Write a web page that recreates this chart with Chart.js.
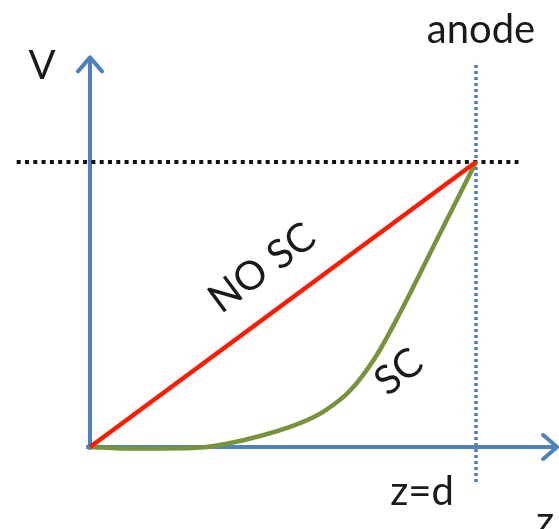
<!DOCTYPE html>
<html>
<head>
<meta charset="utf-8">
<script src="https://cdn.jsdelivr.net/npm/chart.js@4"></script>
<style>
  html, body { margin: 0; padding: 0; background: #fff; }
  #wrap { width: 559px; height: 529px; position: relative; }
</style>
</head>
<body>
<div id="wrap"><canvas id="chartCanvas"></canvas></div>
<script>
// z in units of d, V in units of V0 (anode potential)
const zNoSC = [0, 1];
const vNoSC = [0, 1];

// space-charge limited profile
const zSC = [0, 0.091, 0.181, 0.285, 0.415, 0.544, 0.609, 0.674, 0.738, 0.803, 0.902, 1.0];
const vSC = [0, -0.005, -0.005, -0.002, 0.030, 0.084, 0.128, 0.198, 0.312, 0.470, 0.737, 1.0];

// axes and guide lines (data units)
const zAxisX = [-0.01, 1.205];
const vAxisY = [-0.01, 1.36];
const v0LineX = [-0.19, 1.11];
const anodeLineY = [-0.123, 1.351];

// labels: text, z, V, rotation (deg)
const labelText = ['V', 'anode', 'z=d', 'z', 'NO SC', 'SC'];
const labelZ = [-0.124, 1.013, 0.860, 1.179, 0.446, 0.80];
const labelV = [1.337, 1.463, -0.158, -0.262, 0.628, 0.263];
const labelRot = [0, 0, 0, 0, -36.4, -38];

const BLUE = '#4F81BD';
const toPts = (xs, ys) => xs.map((x, i) => ({ x, y: ys[i] }));

// arrow heads on the axes + text labels
const decorPlugin = {
  id: 'decor',
  afterDatasetsDraw(chart) {
    const { ctx, scales } = chart;
    const xs = scales.x, ys = scales.y;
    ctx.save();
    ctx.strokeStyle = BLUE;
    ctx.lineWidth = 4;
    ctx.lineCap = 'round';
    ctx.lineJoin = 'round';
    // V axis arrow
    let tx = xs.getPixelForValue(0), ty = ys.getPixelForValue(vAxisY[1]) - 2;
    ctx.beginPath();
    ctx.moveTo(tx - 12, ty + 14);
    ctx.lineTo(tx, ty);
    ctx.lineTo(tx + 12, ty + 14);
    ctx.stroke();
    // z axis arrow
    tx = xs.getPixelForValue(zAxisX[1]) + 2; ty = ys.getPixelForValue(0);
    ctx.beginPath();
    ctx.moveTo(tx - 14, ty - 12);
    ctx.lineTo(tx, ty);
    ctx.lineTo(tx - 14, ty + 12);
    ctx.stroke();

    ctx.fillStyle = '#1a1a1a';
    ctx.font = '40px Lato, "Open Sans", sans-serif';
    ctx.textAlign = 'center';
    ctx.textBaseline = 'middle';
    labelText.forEach((t, i) => {
      ctx.save();
      ctx.translate(xs.getPixelForValue(labelZ[i]), ys.getPixelForValue(labelV[i]));
      ctx.rotate(labelRot[i] * Math.PI / 180);
      ctx.fillText(t, 0, 0);
      ctx.restore();
    });
    ctx.restore();
  }
};

new Chart(document.getElementById('chartCanvas'), {
  type: 'scatter',
  data: {
    datasets: [
      { label: 'NO SC', data: toPts(zNoSC, vNoSC), showLine: true, borderColor: '#FF1A00', borderWidth: 4.5 },
      { label: 'SC', data: toPts(zSC, vSC), showLine: true, borderColor: '#77933C', borderWidth: 4.5, cubicInterpolationMode: 'monotone' },
      { label: 'anode', data: toPts([1, 1], anodeLineY), showLine: true, borderColor: '#4A7EC0', borderWidth: 3.5, borderDash: [3, 3] },
      { label: 'V0', data: toPts(v0LineX, [1, 1]), showLine: true, borderColor: '#111', borderWidth: 4, borderDash: [4, 4.3] },
      { label: 'z axis', data: toPts(zAxisX, [0, 0]), showLine: true, borderColor: BLUE, borderWidth: 4 },
      { label: 'V axis', data: toPts([0, 0], vAxisY), showLine: true, borderColor: BLUE, borderWidth: 4 }
    ]
  },
  options: {
    responsive: true,
    maintainAspectRatio: false,
    animation: false,
    events: [],
    elements: { point: { radius: 0 } },
    layout: { padding: 0 },
    plugins: { legend: { display: false }, tooltip: { enabled: false } },
    scales: {
      x: { type: 'linear', min: -0.2332, max: 1.215, display: false },
      y: { type: 'linear', min: -0.2877, max: 1.5684, display: false }
    }
  },
  plugins: [decorPlugin]
});
</script>
</body>
</html>
